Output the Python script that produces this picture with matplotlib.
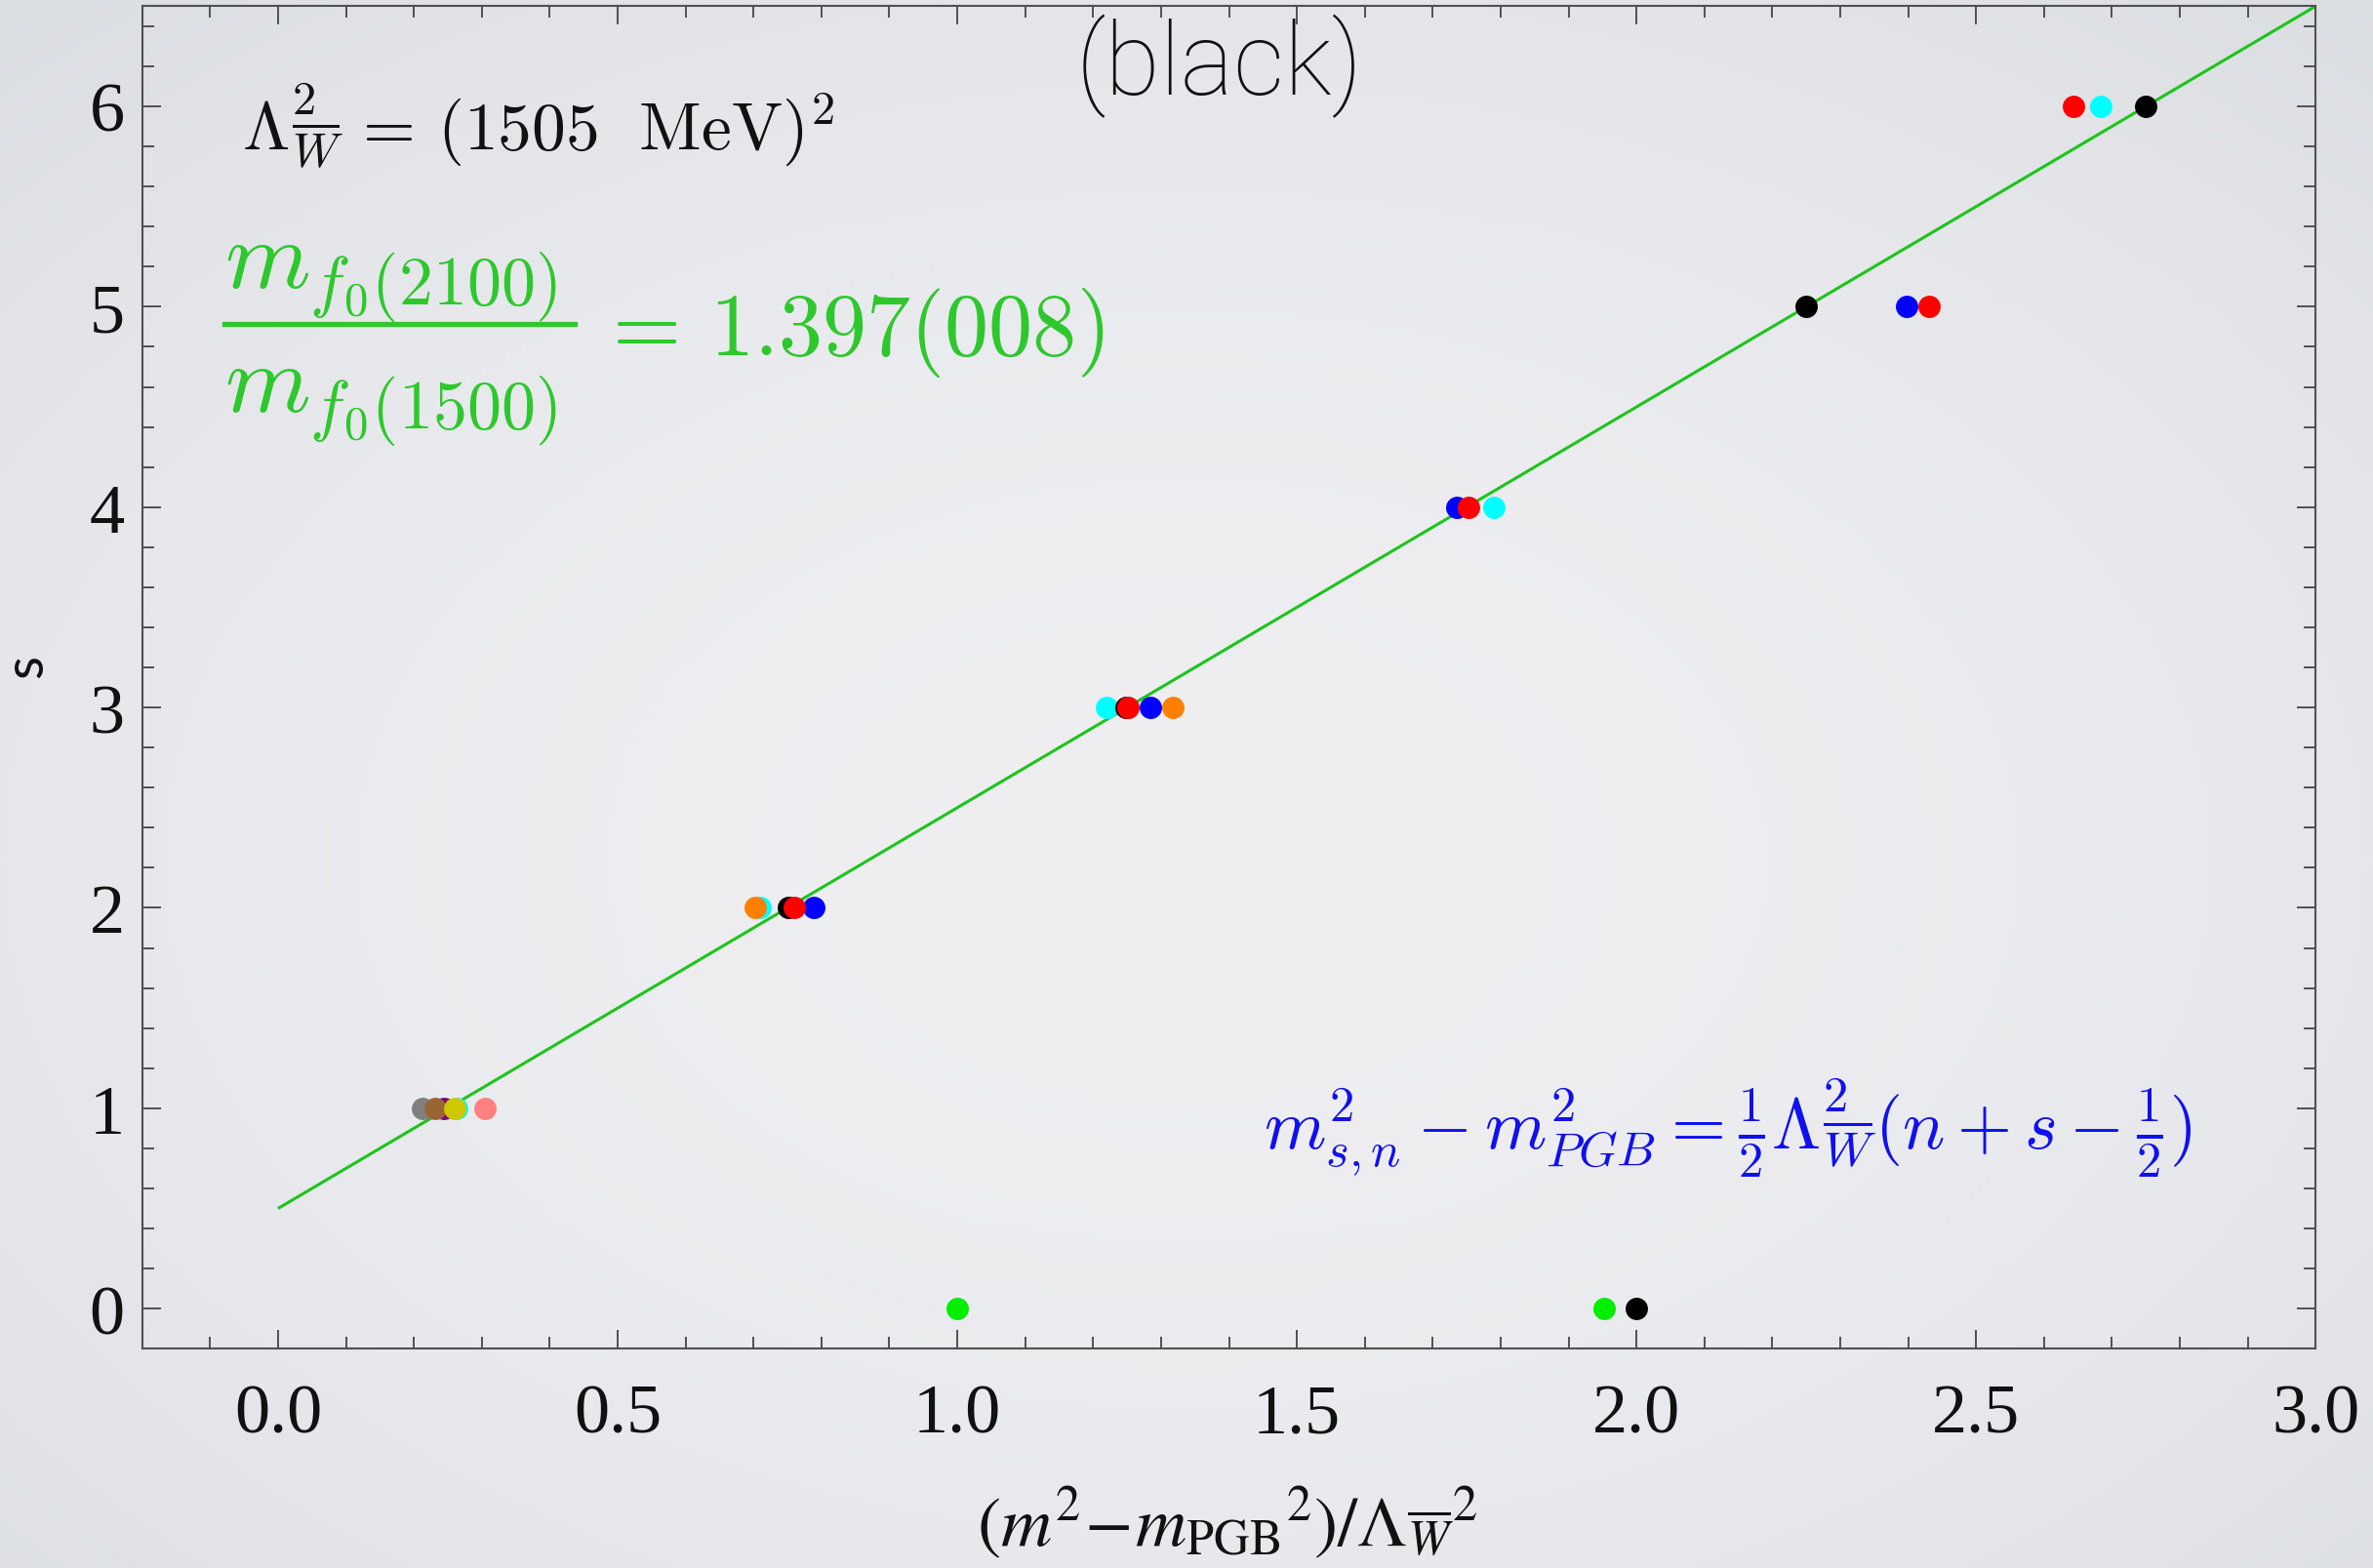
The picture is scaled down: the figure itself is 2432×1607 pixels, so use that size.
import numpy as np
import matplotlib
matplotlib.use("Agg")
import matplotlib.pyplot as plt
from matplotlib.ticker import MultipleLocator, FormatStrFormatter
from matplotlib.lines import Line2D

plt.rcParams["font.family"] = ["Liberation Serif", "DejaVu Serif"]

# ---------------- data ----------------
black_x = [2.75, 2.25, 1.248, 0.751, 2.0]
black_s = [6, 5, 3, 2, 0]
red_x = [2.643, 2.431, 1.752, 1.251, 0.760]
red_s = [6, 5, 4, 3, 2]
cyan_x = [2.684, 1.790, 1.219, 0.710, 0.263]
cyan_s = [6, 4, 3, 2, 1]
blue_x = [2.397, 1.736, 1.284, 0.789]
blue_s = [5, 4, 3, 2]
orange_x = [1.318, 0.703]
orange_s = [3, 2]
gray_x = [0.213]
gray_s = [1]
brown_x = [0.231]
brown_s = [1]
purple_x = [0.245]
purple_s = [1]
yellow_x = [0.260]
yellow_s = [1]
pink_x = [0.305]
pink_s = [1]
green_x = [1.0, 1.953]
green_s = [0, 0]

fit_x = [0.0, 3.0]
fit_s = [0.5, 6.5]

xticks = [0.0, 0.5, 1.0, 1.5, 2.0, 2.5, 3.0]
yticks = [0, 1, 2, 3, 4, 5, 6]

# ---------------- figure ----------------
W, H = 2432, 1608
fig = plt.figure(figsize=(W / 100, H / 100), dpi=100)

# slide background (soft vignette)
bg = fig.add_axes([0, 0, 1, 1], zorder=-10)
yy, xx = np.mgrid[0:1:200j, 0:1:300j]
r2 = ((xx - 0.5) / 0.75) ** 2 + ((yy - 0.55) / 0.75) ** 2
c0 = np.array([0.937, 0.937, 0.949])
c1 = np.array([0.855, 0.867, 0.882])
img = c0[None, None, :] + (c1 - c0)[None, None, :] * np.clip(r2, 0, 1)[:, :, None]
bg.imshow(img, aspect="auto", extent=[0, 1, 0, 1], origin="upper")
bg.axis("off")

ax = fig.add_axes([145.7 / W, 1 - 1383.3 / H, (2373.3 - 145.7) / W, (1383.3 - 7.3) / H])
ax.set_facecolor("none")

ax.plot(fit_x, fit_s, color="#1cc41c", lw=2.2, zorder=2, solid_capstyle="butt")

ms = 16.5
series = [
    (cyan_x, cyan_s, "#00ffff"),
    (purple_x, purple_s, "#800080"),
    (gray_x, gray_s, "#808080"),
    (brown_x, brown_s, "#996633"),
    (yellow_x, yellow_s, "#cfc800"),
    (pink_x, pink_s, "#ff8080"),
    (orange_x, orange_s, "#ff8000"),
    (black_x, black_s, "#000000"),
    (blue_x, blue_s, "#0000ff"),
    (red_x, red_s, "#ff0000"),
    (green_x, green_s, "#00ee00"),
]
for xs, ss, c in series:
    ax.plot(xs, ss, "o", color=c, ms=ms, mew=0, zorder=3, linestyle="none")

ax.set_xlim(-0.2, 3.0)
ax.set_ylim(-0.2, 6.5)

ax.set_xticks(xticks)
ax.set_yticks(yticks)
ax.xaxis.set_minor_locator(MultipleLocator(0.1))
ax.yaxis.set_minor_locator(MultipleLocator(0.2))
ax.xaxis.set_major_formatter(FormatStrFormatter("%.1f"))
ax.yaxis.set_major_formatter(FormatStrFormatter("%d"))

fc = "#505050"
for sp in ax.spines.values():
    sp.set_color(fc)
    sp.set_linewidth(1.5)
ax.tick_params(which="both", direction="in", top=True, right=True, color=fc, width=1.4)
ax.tick_params(which="major", length=13.5, labelsize=52, labelcolor="#111111",
               labelfontfamily="Liberation Serif")
ax.tick_params(which="minor", length=8.5)
ax.tick_params(axis="x", which="major", pad=25)
ax.tick_params(axis="y", which="major", pad=13)

# y label
fig.text(28 / W, 1 - 683 / H, "s", rotation=90, ha="center", va="center",
         fontsize=40, family="Lato", color="#111111")

# x label
fig.text(1258 / W, 1 - 1584 / H,
         r"$(m^2\!-\!m_{\mathrm{PGB}}{}^2)/\Lambda_{\overline{W}}{}^2$",
         ha="center", va="baseline", fontsize=52, color="#111111",
         math_fontfamily="stix")

# title
fig.text(1250 / W, 1 - 68 / H, "(black)", ha="center", va="center",
         fontsize=74, family=["Roboto", "Lato"], weight="light", color="#111111")

# annotations (Computer Modern)
fig.text(248 / W, 1 - 129 / H, r"$\Lambda^2_{\overline{W}}\, =\, (1505\ \ \mathrm{MeV})^2$",
         ha="left", va="center", fontsize=50, color="#111111", math_fontfamily="cm")

green = "#2ec82e"
fig.text(230 / W, 1 - 295 / H, r"$m_{f_0(2100)}$", ha="left", va="baseline",
         fontsize=72, color=green, math_fontfamily="cm")
fig.text(230 / W, 1 - 422 / H, r"$m_{f_0(1500)}$", ha="left", va="baseline",
         fontsize=72, color=green, math_fontfamily="cm")
fig.add_artist(Line2D([230 / W, 589 / W], [1 - 333 / H, 1 - 333 / H],
                      transform=fig.transFigure, color=green, lw=3.8))
fig.text(612 / W, 1 - 364 / H, r"$=\, 1.397(008)$", ha="left", va="baseline",
         fontsize=65, color=green, math_fontfamily="cm")

fig.text(1295 / W, 1 - 1156 / H,
         r"$m^2_{s,n} - m^2_{PGB} = \frac{1}{2}\Lambda^2_{\overline{W}}(n + s - \frac{1}{2})$",
         ha="left", va="center", fontsize=52, color="#1010ee", math_fontfamily="cm")

fig.savefig("out.png", dpi=100)
